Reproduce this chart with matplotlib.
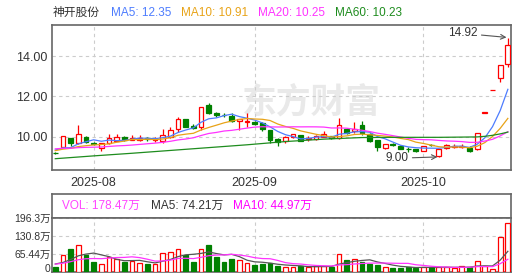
import numpy as np
import pandas as pd
import matplotlib
matplotlib.use("Agg")
import matplotlib.pyplot as plt
from matplotlib.transforms import ScaledTranslation

plt.rcParams['font.family'] = ['Liberation Sans', 'Noto Sans CJK SC', 'DejaVu Sans']

stock_name = "神开股份"

# daily candles, 2025-07-25 .. 2025-10-24 (60 trading days)
opens = [9.20, 9.50, 9.92, 9.67, 9.97, 9.68, 9.45, 9.67, 9.80, 9.98,
         9.84, 9.83, 9.93, 9.83, 9.80, 9.97, 10.40, 10.86, 10.53, 10.47,
         11.55, 11.18, 11.08, 11.04, 10.77, 10.75, 10.74, 10.68, 10.33, 9.88,
         9.77, 9.98, 10.08, 9.87, 9.87, 10.00, 10.03, 9.93, 10.40, 10.28,
         10.57, 10.15, 9.84, 9.42, 9.63, 9.55, 9.40, 9.38, 9.29, 9.60,
         9.02, 9.43, 9.50, 9.50, 9.45, 9.38, 11.19, 12.31, 12.93, 13.60]
highs = [9.22, 10.05, 9.95, 10.58, 10.05, 9.75, 9.70, 10.12, 10.13, 10.02,
         10.10, 10.08, 9.98, 9.97, 10.37, 10.47, 10.99, 10.88, 10.65, 11.48,
         11.68, 11.25, 11.20, 11.19, 10.88, 11.16, 10.78, 10.75, 10.35, 9.92,
         10.02, 10.15, 10.10, 10.03, 10.10, 10.30, 10.06, 10.91, 10.42, 10.72,
         10.80, 10.17, 9.86, 9.64, 9.70, 9.58, 9.48, 9.40, 9.54, 9.66,
         9.40, 9.66, 9.62, 9.66, 9.55, 10.17, 11.19, 12.31, 13.54, 14.92]
lows = [9.12, 9.48, 9.55, 9.62, 9.67, 9.60, 9.31, 9.65, 9.78, 9.78,
        9.82, 9.80, 9.80, 9.76, 9.70, 9.95, 10.25, 10.48, 10.40, 10.33,
        11.15, 11.00, 10.98, 10.75, 10.35, 10.50, 10.58, 10.30, 9.68, 9.55,
        9.70, 9.96, 9.78, 9.80, 9.85, 9.98, 9.90, 9.90, 10.15, 10.20,
        10.10, 9.72, 9.30, 9.40, 9.55, 9.38, 9.25, 9.22, 9.27, 9.52,
        9.00, 9.40, 9.42, 9.45, 9.22, 9.33, 11.19, 12.31, 12.70, 13.47]
closes = [9.17, 10.03, 9.67, 10.13, 9.75, 9.66, 9.67, 9.95, 10.00, 9.82,
          9.95, 9.95, 9.89, 9.90, 10.07, 10.33, 10.86, 10.50, 10.43, 11.46,
          11.20, 11.08, 11.06, 10.79, 10.86, 10.80, 10.61, 10.36, 9.82, 9.72,
          10.00, 10.12, 9.80, 9.95, 10.03, 10.12, 9.95, 10.56, 10.18, 10.40,
          10.18, 9.80, 9.48, 9.62, 9.60, 9.40, 9.38, 9.28, 9.52, 9.58,
          9.38, 9.60, 9.55, 9.55, 9.27, 10.17, 11.19, 12.31, 13.54, 14.54]
# volume in 万
volumes = [17.8, 59.5, 84.0, 96.3, 62.0, 36.2, 26.4, 52.0, 47.2, 36.2,
           38.6, 30.0, 26.4, 26.4, 66.9, 70.5, 82.8, 59.5, 36.2, 82.8,
           97.5, 53.4, 35.0, 46.0, 41.1, 31.3, 23.9, 27.6, 30.0, 20.2,
           17.8, 15.3, 20.2, 15.3, 20.2, 20.2, 16.6, 63.2, 42.3, 44.8,
           36.2, 27.6, 23.9, 15.3, 14.1, 14.1, 16.6, 12.9, 17.8, 15.3,
           15.3, 17.0, 11.6, 19.5, 15.25, 37.4, 20.2, 9.2, 125.78, 178.47]

# days before the window, only used to start the short moving averages
prior_closes = [9.55, 9.60, 9.50, 9.45, 9.52, 9.48, 9.40, 9.45, 9.50, 9.45,
                9.30, 9.25, 9.28, 9.30, 9.27, 9.50, 9.60, 9.20, 9.23]
prior_volumes = [25, 28, 24, 27, 28, 32, 30, 28, 30]

# MA60
ma60_bars = [0, 5, 10, 15, 20, 25, 30, 35, 40, 45, 50, 55, 56, 57, 58, 59]
ma60_values = [8.91, 9.05, 9.18, 9.32, 9.46, 9.60, 9.76, 9.88, 9.96, 9.97,
               9.97, 9.99, 10.02, 10.07, 10.14, 10.23]

month_bars = [5, 26, 48]
month_labels = ["2025-08", "2025-09", "2025-10"]
price_ticks = [10, 12, 14]
vol_ticks = [0, 65.44, 130.8, 196.3]

RED = '#ff0000'
GREEN = '#008000'
GRID = dict(color='#cccccc', linestyle=(0, (3, 3)), linewidth=0.8)
W, H = 514, 275


def fx(px):
    return px / W


def fy(py):
    return 1 - py / H


def frame(ax):
    for s in ax.spines.values():
        s.set_color('#666666')
        s.set_linewidth(1.2)


def draw_candles(ax, o, h, l, c):
    x = np.arange(len(c))
    up = c >= o
    ax.vlines(x[up], l[up], h[up], color=RED, lw=0.9, zorder=2)
    ax.vlines(x[~up], l[~up], h[~up], color=GREEN, lw=0.9, zorder=2)
    body = np.maximum(np.abs(c - o), 0.02)
    ax.bar(x[up], body[up], bottom=np.minimum(o, c)[up], width=0.62,
           facecolor='white', edgecolor=RED, lw=0.9, zorder=3)
    ax.bar(x[~up], body[~up], bottom=np.minimum(o, c)[~up], width=0.62,
           facecolor=GREEN, edgecolor=GREEN, lw=0.9, zorder=3)


def run():
    o, h, l, c = map(np.array, (opens, highs, lows, closes))
    v = np.array(volumes)
    n = len(c)
    x = np.arange(n)
    up = c >= o

    all_c = pd.Series(prior_closes + closes)
    ma = {k: all_c.rolling(k).mean().to_numpy()[-n:] for k in (5, 10, 20)}
    all_v = pd.Series(prior_volumes + volumes)
    vma5 = all_v.rolling(5).mean().to_numpy()[-n:]
    vma10 = all_v.rolling(10).mean().to_numpy()[-n:]

    fig = plt.figure(figsize=(W / 100, H / 100), dpi=100)

    # price panel
    ax = fig.add_axes([fx(52), fy(170), 459 / W, 145 / H])
    ax.set_xlim(-0.43, 59.41)
    ax.set_ylim(8.35, 15.54)
    ax.set_yticks(price_ticks)
    ax.set_yticklabels([f"{t:.2f}" for t in price_ticks])
    ax.set_xticks(month_bars)
    ax.set_xticklabels(month_labels)
    ax.tick_params(length=0, labelsize=9, colors='#333333')
    ax.tick_params(axis='y', pad=3)
    ax.tick_params(axis='x', pad=5)
    ax.grid(True, **GRID)
    ax.set_axisbelow(True)
    frame(ax)

    # watermark
    ax.text(0.565, 0.47, "东方财富", transform=ax.transAxes, ha='center', va='center',
            fontsize=25, fontweight='bold', color='#e9e9e9', zorder=0,
            family=['Noto Sans CJK SC'])

    draw_candles(ax, o, h, l, c)
    ax.plot(x, ma[5], color='#4d7cfe', lw=0.9, zorder=4)
    ax.plot(x, ma[10], color='#e8a317', lw=0.9, zorder=4)
    ax.plot(x, ma[20], color='#ff33ff', lw=0.9, zorder=4)
    ax.plot(ma60_bars, ma60_values, color='#1e8c1e', lw=0.9, zorder=4)

    hi = int(np.argmax(h))
    lo = int(np.argmin(l))
    arrow = dict(arrowstyle='->', color='#555555', lw=0.8, shrinkA=1, shrinkB=1)
    ax.annotate(f"{h[hi]:.2f}", xy=(hi, h[hi]), xytext=(-22, 3), textcoords='offset points',
                ha='right', va='center', fontsize=8.5, color='#333333', arrowprops=arrow)
    ax.annotate(f"{l[lo]:.2f}", xy=(lo, l[lo]), xytext=(-22, -1), textcoords='offset points',
                ha='right', va='center', fontsize=8.5, color='#333333', arrowprops=arrow)

    # legend line above the price panel
    fig.text(fx(53), fy(12.8), stock_name, va='center', fontsize=8.5, color='#333333')
    legend = [(111, 'MA5', ma[5][-1], '#4d7cfe'), (181, 'MA10', ma[10][-1], '#e8a317'),
              (258, 'MA20', ma[20][-1], '#ff33ff'), (335, 'MA60', c.mean(), '#1e8c1e')]
    for px, name, val, col in legend:
        fig.text(fx(px), fy(12.8), f"{name}: {val:.2f}", va='center', fontsize=8.5, color=col)

    # volume header box
    head = fig.add_axes([fx(52), fy(218), 459 / W, 24 / H])
    head.set_xticks([])
    head.set_yticks([])
    frame(head)
    fig.text(fx(62), fy(206), f"VOL: {v[-1]:.2f}万", va='center', fontsize=8.5, color='#ff44ff')
    fig.text(fx(151), fy(206), f"MA5: {vma5[-1]:.2f}万", va='center', fontsize=8.5, color='#333333')
    fig.text(fx(233), fy(206), f"MA10: {vma10[-1]:.2f}万", va='center', fontsize=8.5, color='#ff00ff')

    # volume panel
    vax = fig.add_axes([fx(52), fy(271.5), 459 / W, 53.5 / H])
    vax.set_xlim(-0.43, 59.41)
    vax.set_ylim(0, vol_ticks[-1])
    vax.set_yticks(vol_ticks)
    vax.set_yticklabels(["0"] + [f"{t:g}万" for t in vol_ticks[1:]])
    vax.set_xticks(month_bars)
    vax.set_xticklabels([])
    vax.tick_params(length=0, labelsize=7.5, colors='#333333', pad=1)
    vax.grid(True, **GRID)
    vax.set_axisbelow(True)
    frame(vax)
    # keep the "0" inside the picture
    zero = vax.get_yticklabels()[0]
    zero.set_transform(zero.get_transform() + ScaledTranslation(0, 2.5 / 72, fig.dpi_scale_trans))

    vax.bar(x[up], v[up], width=0.62, facecolor='white', edgecolor=RED, lw=0.9, zorder=3)
    vax.bar(x[~up], v[~up], width=0.62, facecolor=GREEN, edgecolor=GREEN, lw=0.9, zorder=3)
    vax.plot(x, vma5, color='#555555', lw=0.9, zorder=4)
    vax.plot(x, vma10, color='#ff33ff', lw=0.9, zorder=4)

    fig.savefig("out.png", dpi=100)


if __name__ == "__main__":
    run()
